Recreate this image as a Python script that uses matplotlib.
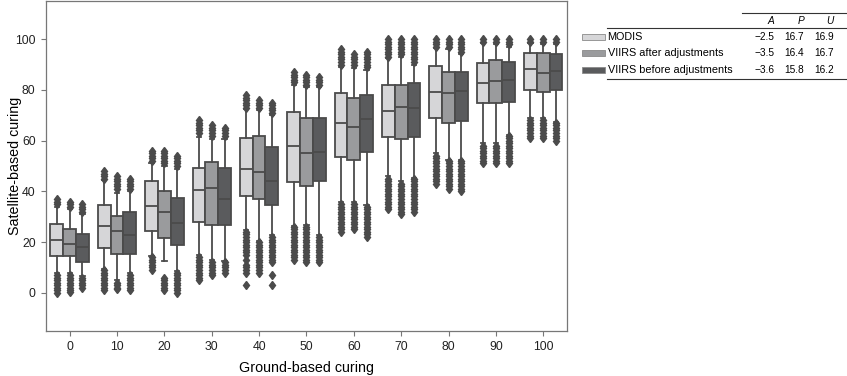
import matplotlib
matplotlib.use("Agg")
import matplotlib.pyplot as plt
from matplotlib.patches import Rectangle
from matplotlib.lines import Line2D

plt.rcParams["font.family"] = ["Liberation Sans", "DejaVu Sans"]

# 지상 기반 건조도 구간
categories = [0, 10, 20, 30, 40, 50, 60, 70, 80, 90, 100]

series_names = ["MODIS", "VIIRS after adjustments", "VIIRS before adjustments"]
series_colors = ["#d6d6d8", "#9a9b9d", "#5a5b5d"]

# MODIS
modis_q1 = [14.4, 17.7, 24.2, 27.9, 38.3, 43.6, 53.5, 61.3, 68.8, 74.7, 79.9]
modis_med = [21.0, 26.2, 34.1, 40.6, 48.9, 58.0, 66.8, 71.8, 79.3, 82.8, 88.1]
modis_q3 = [27.2, 34.8, 44.0, 49.1, 60.9, 71.2, 78.6, 81.9, 89.4, 90.8, 94.4]
modis_lo = [8, 9.5, 14.7, 15, 24.9, 26.2, 36, 45.9, 55, 59, 68.8]
modis_hi = [34, 44.6, 51, 61.5, 72.5, 82, 89, 92.5, 96.5, 98.5, 98.5]
modis_fliers = [
    [0, 1, 2, 3, 4, 5, 6, 7, 35, 36, 37],
    [1, 2, 3, 4, 5, 6, 7, 8, 9, 45, 46, 47, 48],
    [9, 10, 11, 12, 13, 14, 52, 53, 54, 55, 56],
    [5, 6, 7, 8, 9, 10, 11, 12, 13, 14, 63, 64, 65, 66, 67, 68],
    [3, 8, 9, 10, 11, 13, 15, 16, 17, 18, 19, 20, 21, 22, 23, 24, 73, 74, 75, 76, 77, 78],
    [13, 14, 15, 16, 17, 18, 19, 20, 21, 22, 23, 24, 25, 26, 83, 84, 85, 86, 87],
    [24, 25, 26, 27, 28, 29, 30, 31, 32, 33, 34, 35, 90, 91, 92, 93, 94, 95, 96],
    [33, 34, 35, 36, 37, 38, 39, 40, 41, 42, 43, 44, 45, 93, 94, 95, 96, 97, 98, 99, 100],
    [43, 44, 45, 46, 47, 48, 49, 50, 51, 52, 53, 54, 97, 98, 99, 100],
    [51, 52, 53, 54, 55, 56, 57, 58, 99, 100],
    [61, 62, 63, 64, 65, 66, 67, 68, 99, 100],
]

# VIIRS 보정 후
after_q1 = [14.4, 15.3, 21.6, 26.9, 37.1, 42.3, 52.4, 60.6, 66.8, 74.7, 79.0]
after_med = [19.4, 24.2, 31.8, 41.5, 47.8, 55.0, 65.3, 73.1, 78.9, 83.5, 86.5]
after_q3 = [25.3, 30.4, 40.2, 51.5, 61.9, 68.8, 76.7, 81.9, 87.2, 91.7, 94.4]
after_lo = [8, 5, 12.5, 13, 20.3, 26.9, 36, 43.9, 52.4, 59, 68.8]
after_hi = [33, 39.5, 50, 60.5, 72, 81, 88.5, 93, 96, 98, 98]
after_fliers = [
    [0.5, 1, 2, 3, 4, 5, 6, 7, 34, 35, 36],
    [1.5, 2, 3, 4, 41, 42, 43, 44, 45, 46],
    [1, 2, 3, 4, 5, 6, 51, 52, 53, 54, 55, 56],
    [7, 8, 9, 10, 11, 12, 62, 63, 64, 65, 66],
    [8, 9, 10, 11, 12, 13, 14, 15, 16, 17, 18, 19, 20, 73, 74, 75, 76],
    [12, 13, 14, 15, 16, 17, 18, 19, 20, 21, 22, 23, 24, 25, 26, 82, 83, 84, 85, 86],
    [25, 26, 27, 28, 29, 30, 31, 32, 33, 34, 35, 90, 91, 92, 93, 94],
    [31, 32, 33, 34, 35, 36, 37, 38, 39, 40, 41, 42, 43, 94, 95, 96, 97, 98, 99, 100],
    [41, 42, 43, 44, 45, 46, 47, 48, 49, 50, 51, 52, 97, 98, 99, 100],
    [51, 52, 53, 54, 55, 56, 57, 58, 99, 100],
    [61, 62, 63, 64, 65, 66, 67, 68, 99, 100],
]

# VIIRS 보정 전
before_q1 = [12.2, 15.3, 18.7, 26.9, 34.5, 43.9, 55.7, 61.6, 67.8, 75.1, 79.9]
before_med = [17.9, 22.7, 27.4, 37.1, 43.9, 55.4, 68.5, 72.7, 79.7, 84.1, 87.5]
before_q3 = [23.2, 31.7, 37.3, 49.1, 57.3, 68.8, 78.0, 82.8, 86.9, 91.1, 94.1]
before_lo = [6.5, 8, 8.5, 12.5, 22.9, 22.9, 34.7, 45.2, 52.4, 62.3, 67.5]
before_hi = [31, 40, 49, 60.5, 70, 81, 88, 90, 94, 97, 98]
before_fliers = [
    [2, 3, 4, 5, 6, 32, 33, 34, 35],
    [1, 2, 3, 4, 5, 6, 7, 41, 42, 43, 44, 45],
    [0, 1, 2, 3, 4, 5, 6, 7, 8, 50, 51, 52, 53, 54],
    [8, 9, 10, 11, 12, 62, 63, 64, 65],
    [3, 7, 12, 13, 14, 15, 16, 17, 18, 19, 20, 21, 22, 71, 72, 73, 74, 75],
    [12, 13, 14, 15, 16, 17, 18, 19, 20, 21, 22, 82, 83, 84, 85],
    [22, 23, 24, 25, 26, 27, 28, 29, 30, 31, 32, 33, 34, 89, 90, 91, 92, 93, 94, 95],
    [32, 33, 34, 35, 36, 37, 38, 39, 40, 41, 42, 43, 44, 45, 91, 92, 93, 94, 95, 96, 97, 98, 99, 100],
    [40, 41, 42, 43, 44, 45, 46, 47, 48, 49, 50, 51, 52, 95, 96, 97, 98, 99, 100],
    [51, 52, 53, 54, 55, 56, 57, 58, 59, 60, 61, 62, 98, 99, 100],
    [60, 61, 62, 63, 64, 65, 66, 67, 99, 100],
]

# 오차 지표 표
table_headers = ["A", "P", "U"]
table_values = [
    ["\u22122.5", "16.7", "16.9"],
    ["\u22123.5", "16.4", "16.7"],
    ["\u22123.6", "15.8", "16.2"],
]

all_series = [
    (modis_q1, modis_med, modis_q3, modis_lo, modis_hi, modis_fliers),
    (after_q1, after_med, after_q3, after_lo, after_hi, after_fliers),
    (before_q1, before_med, before_q3, before_lo, before_hi, before_fliers),
]

edge = "#4b4b4b"
box_w = 0.27

fig = plt.figure(figsize=(8.47, 3.76), dpi=100)
ax = fig.add_axes([0.0543, 0.12, 0.615, 0.877])

for j, (q1, med, q3, lo, hi, fl) in enumerate(all_series):
    stats = []
    for i in range(len(categories)):
        stats.append({
            "q1": q1[i], "med": med[i], "q3": q3[i],
            "whislo": lo[i], "whishi": hi[i], "fliers": fl[i],
        })
    positions = [i + (j - 1) * box_w for i in range(len(categories))]
    ax.bxp(
        stats,
        positions=positions,
        widths=box_w,
        capwidths=0.09,
        patch_artist=True,
        showfliers=True,
        boxprops=dict(facecolor=series_colors[j], edgecolor=edge, linewidth=1.3),
        medianprops=dict(color=edge, linewidth=1.3),
        whiskerprops=dict(color=edge, linewidth=1.3),
        capprops=dict(color=edge, linewidth=1.3),
        flierprops=dict(marker="d", markersize=4.5, markerfacecolor=edge,
                        markeredgecolor=edge, linestyle="none"),
        manage_ticks=False,
    )

ax.set_xlim(-0.5, len(categories) - 0.5)
ax.set_ylim(-15, 115)
ax.set_xticks(range(len(categories)))
ax.set_xticklabels([str(c) for c in categories])
ax.set_yticks([0, 20, 40, 60, 80, 100])
ax.tick_params(labelsize=8.8, labelcolor="#222222", color="#777777",
               length=3.5, width=0.8, pad=4)
for sp in ax.spines.values():
    sp.set_color("#777777")
    sp.set_linewidth(0.9)

ax.set_xlabel("Ground-based curing", fontsize=10.3)
ax.set_ylabel("Satellite-based curing", fontsize=10.3)
ax.xaxis.set_label_coords(0.5, -0.09)
ax.yaxis.set_label_coords(-0.046, 0.5)

# 범례 + 표 (그림 픽셀 좌표 기준)
W, H = 847, 376
def fx(px):
    return px / W
def fy(py):
    return 1 - py / H

row_y = [36.5, 53.3, 70.1]
for r, name in enumerate(series_names):
    fig.add_artist(Rectangle((fx(582), fy(row_y[r] + 3)), (605 - 582) / W, 6 / H,
                             facecolor=series_colors[r], edgecolor="#8a8a8a",
                             linewidth=0.6, transform=fig.transFigure))
    fig.text(fx(607.5), fy(row_y[r]), name, ha="left", va="center", fontsize=7.8)

fig.add_artist(Line2D([fx(742), fx(847)], [fy(12.5), fy(12.5)], color="#333333", lw=0.8))
fig.add_artist(Line2D([fx(607), fx(847)], [fy(28), fy(28)], color="#333333", lw=0.8))
fig.add_artist(Line2D([fx(607), fx(847)], [fy(79), fy(79)], color="#333333", lw=0.8))

col_right = [774, 804, 834]
for k, h in enumerate(table_headers):
    fig.text(fx(col_right[k]), fy(20.5), h, ha="right", va="center",
             fontsize=7.3, style="italic")
for r, vals in enumerate(table_values):
    for k, v in enumerate(vals):
        fig.text(fx(col_right[k]), fy(row_y[r]), v, ha="right", va="center",
                 fontsize=7.3)

fig.savefig("out.png", dpi=100)
plt.close(fig)
